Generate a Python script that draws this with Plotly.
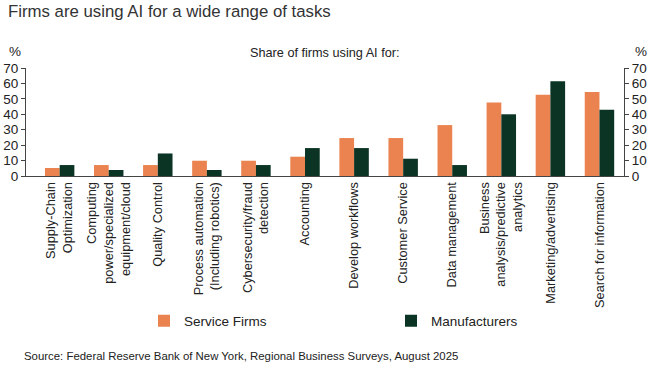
import plotly.graph_objects as go

categories = [
    "Supply-Chain<br>Optimization",
    "Computing<br>power/specialized<br>equipment/cloud",
    "Quality Control",
    "Process automation<br>(Including robotics)",
    "Cybersecurity/fraud<br>detection",
    "Accounting",
    "Develop workflows",
    "Customer Service",
    "Data management",
    "Business<br>analysis/predictive<br>analytics",
    "Marketing/advertising",
    "Search for information",
]
service_firms = [5.2, 7.1, 7.1, 9.9, 9.9, 12.5, 24.6, 24.6, 33.0, 47.6, 52.6, 54.5]
manufacturers = [7.1, 3.9, 14.6, 3.9, 7.1, 18.1, 18.1, 11.2, 7.1, 40.0, 61.4, 43.0]
y_ticks = [0, 10, 20, 30, 40, 50, 60, 70]

ORANGE = "#EA834F"
GREEN = "#0B3424"
FONT = "Liberation Sans"
TXT = "#222222"

fig = go.Figure()
fig.add_trace(go.Bar(x=categories, y=service_firms, name="Service Firms",
                     marker=dict(color=ORANGE, line=dict(width=0)), legend="legend"))
fig.add_trace(go.Bar(x=categories, y=manufacturers, name="Manufacturers",
                     marker=dict(color=GREEN, line=dict(width=0)), legend="legend2"))
# invisible trace for right axis
fig.add_trace(go.Scatter(x=[categories[0]], y=[0], yaxis="y2", mode="markers",
                         marker=dict(opacity=0), showlegend=False, hoverinfo="skip"))

axis_common = dict(range=[0, 70], tickvals=y_ticks, showgrid=False, zeroline=False,
                   showline=True, linecolor="#444444", linewidth=1, automargin=False,
                   ticks="outside", ticklen=4, tickcolor="#444444",
                   tickfont=dict(family=FONT, size=13.5, color=TXT))

legend_common = dict(orientation="h", xanchor="left", yanchor="middle",
                     xref="container", yref="container", y=(365 - 321) / 365,
                     font=dict(family=FONT, size=13.5, color=TXT), itemwidth=30,
                     bgcolor="rgba(0,0,0,0)")

fig.update_layout(
    width=649, height=365,
    margin=dict(l=26, r=25, t=68, b=189),
    paper_bgcolor="white", plot_bgcolor="white",
    barmode="group", bargap=0.4, bargroupgap=0,
    font=dict(family=FONT, color=TXT),
    xaxis=dict(showline=True, linecolor="#444444", linewidth=1, ticks="",
               tickangle=-90, tickfont=dict(family=FONT, size=12.8, color=TXT),
               showgrid=False, automargin=False),
    yaxis=dict(**axis_common, side="left"),
    yaxis2=dict(**axis_common, side="right", overlaying="y"),
    legend=dict(**legend_common, x=144 / 649),
    legend2=dict(**legend_common, x=391 / 649),
    annotations=[
        dict(text="Firms are using AI for a wide range of tasks", xref="paper", yref="paper",
             x=-20/598, y=(176-12)/108, xanchor="left", yanchor="middle", showarrow=False,
             font=dict(family=FONT, size=16.8, color="#333333")),
        dict(text="Share of firms using AI for:", xref="paper", yref="paper",
             x=0.5, y=(176-53)/108, xanchor="center", yanchor="middle", showarrow=False,
             font=dict(family=FONT, size=12.7, color=TXT)),
        dict(text="%", xref="paper", yref="paper", x=-19/598, y=(176-51)/108,
             xanchor="left", yanchor="middle", showarrow=False,
             font=dict(family=FONT, size=13.5, color=TXT)),
        dict(text="%", xref="paper", yref="paper", x=(633-26)/598, y=(176-51)/108,
             xanchor="left", yanchor="middle", showarrow=False,
             font=dict(family=FONT, size=13.5, color=TXT)),
        dict(text="Source: Federal Reserve Bank of New York, Regional Business Surveys, August 2025",
             xref="paper", yref="paper", x=-4/598, y=(176-356)/108,
             xanchor="left", yanchor="middle", showarrow=False,
             font=dict(family=FONT, size=11.4, color=TXT)),
    ],
)

fig.write_html("out.html", config={"displayModeBar": False},
               post_script="document.body.style.margin='0';document.body.style.overflow='hidden';")
